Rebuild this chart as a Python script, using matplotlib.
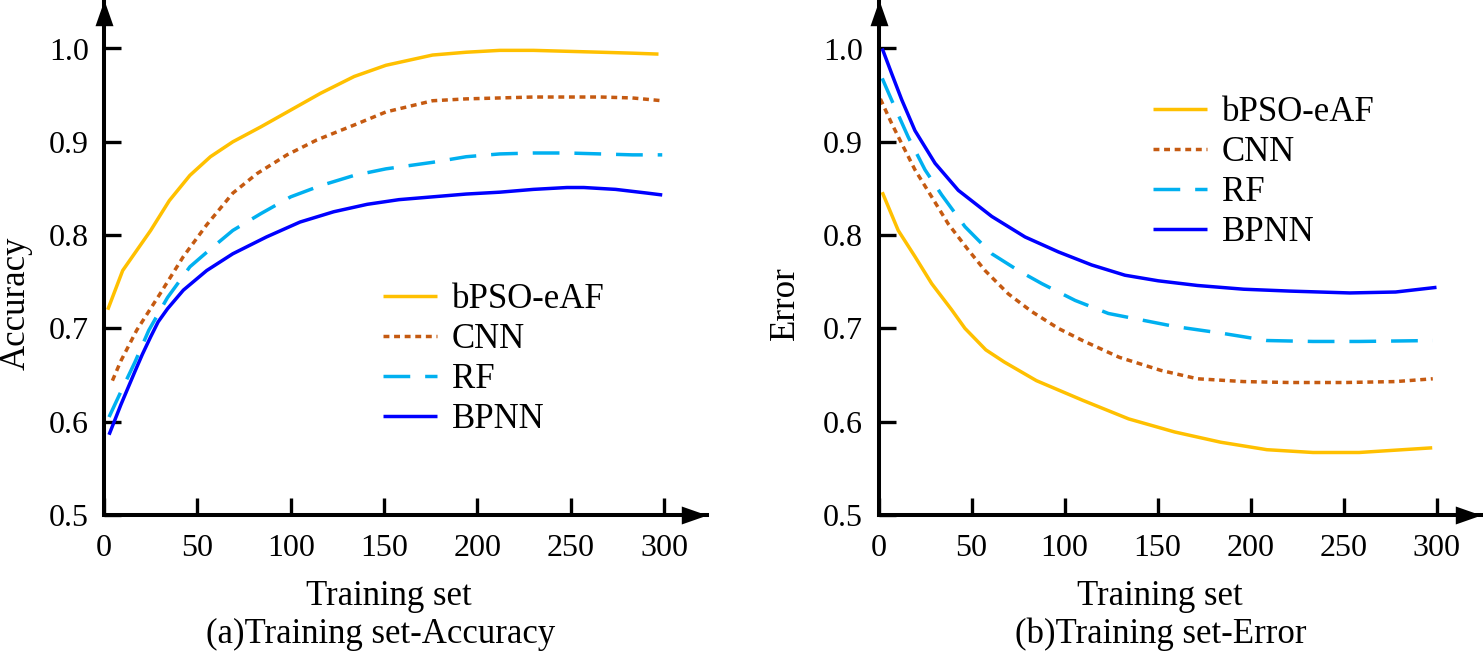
import matplotlib
matplotlib.use("Agg")
import matplotlib.pyplot as plt

plt.rcParams['font.family'] = ['Liberation Serif', 'DejaVu Serif']

# ---- (a) Training set - Accuracy
acc_bpso_x = [2, 10, 25, 35, 46, 57, 69, 84, 100, 116, 134, 151, 176, 194, 212, 230, 248, 266, 283, 297]
acc_bpso_y = [0.720, 0.762, 0.805, 0.837, 0.864, 0.884, 0.900, 0.916, 0.934, 0.952, 0.970, 0.982,
              0.993, 0.996, 0.998, 0.998, 0.997, 0.996, 0.995, 0.994]
acc_cnn_x = [4.5, 9, 17.5, 30, 42.5, 55, 69, 82, 98, 114, 134, 151, 176, 194, 230, 266, 283, 299]
acc_cnn_y = [0.644, 0.665, 0.698, 0.737, 0.777, 0.811, 0.845, 0.866, 0.886, 0.902, 0.918, 0.932,
             0.944, 0.946, 0.948, 0.948, 0.947, 0.944]
acc_rf_x = [2.7, 9, 16.6, 24, 34, 46, 57, 69, 84, 100, 116, 134, 151, 176, 194, 212, 230, 248, 266, 283, 299]
acc_rf_y = [0.605, 0.632, 0.664, 0.698, 0.733, 0.766, 0.785, 0.805, 0.823, 0.841, 0.853, 0.864,
            0.871, 0.878, 0.884, 0.887, 0.888, 0.888, 0.887, 0.886, 0.886]
acc_bpnn_x = [2.7, 9, 16.6, 20.5, 25, 29, 34, 42.5, 55, 69, 87, 105, 123, 141, 158, 176, 194, 212,
              230, 248, 257, 274, 291, 299]
acc_bpnn_y = [0.586, 0.618, 0.654, 0.672, 0.691, 0.707, 0.721, 0.741, 0.762, 0.780, 0.798, 0.814,
              0.825, 0.833, 0.838, 0.841, 0.844, 0.846, 0.849, 0.851, 0.851, 0.849, 0.845, 0.843]

# ---- (b) Training set - Error
err_bpso_x = [2, 10.6, 19.6, 28.6, 39.3, 46.5, 57.7, 67.6, 84.9, 109.7, 134.5, 159.2, 184, 208.8,
              233.6, 258.4, 297.7]
err_bpso_y = [0.846, 0.805, 0.777, 0.748, 0.720, 0.700, 0.677, 0.664, 0.644, 0.623, 0.603, 0.589,
              0.578, 0.570, 0.567, 0.567, 0.572]
err_cnn_x = [1, 7, 12.5, 19.6, 28.6, 37.5, 48.3, 57.3, 69.8, 82.4, 96.7, 109.7, 129.5, 151.8,
             171.5, 196.3, 221, 251, 278, 298]
err_cnn_y = [0.946, 0.920, 0.898, 0.870, 0.841, 0.812, 0.784, 0.762, 0.737, 0.718, 0.700, 0.687,
             0.669, 0.655, 0.646, 0.643, 0.642, 0.642, 0.643, 0.646]
err_rf_x = [2, 7, 16, 25, 34, 46.5, 60.9, 75.2, 87.8, 105.7, 123.6, 141.5, 159.4, 184, 208.8,
            233.6, 258.4, 298]
err_rf_y = [0.968, 0.945, 0.905, 0.870, 0.843, 0.809, 0.780, 0.762, 0.748, 0.730, 0.716, 0.709,
            0.702, 0.695, 0.687, 0.686, 0.686, 0.687]
err_bpnn_x = [2, 7.1, 12.5, 19.6, 30.4, 42.9, 60.9, 78.8, 96.7, 114.6, 132.5, 150.4, 171.5, 196.3,
              221, 253.4, 278, 300]
err_bpnn_y = [1.0, 0.973, 0.945, 0.912, 0.877, 0.848, 0.820, 0.798, 0.782, 0.768, 0.757, 0.751,
              0.746, 0.742, 0.740, 0.738, 0.739, 0.744]

labels = ["bPSO-eAF", "CNN", "RF", "BPNN"]
colors = ["#FFC000", "#C55A11", "#00B0F0", "#0000FF"]
styles = ["-", (0, (1.7, 1.35)), (0, (7.7, 4.3)), "-"]
xticks = [0, 50, 100, 150, 200, 250, 300]
yticks = [0.5, 0.6, 0.7, 0.8, 0.9, 1.0]

W, H = 1483, 653
fig = plt.figure(figsize=(W / 100, H / 100), dpi=100)

# axes placed in pixels: y axis at left edge, arrow tip at right edge
ax1 = fig.add_axes([104 / W, 138 / H, (707 - 104) / W, 515 / H])
ax2 = fig.add_axes([878.5 / W, 138 / H, (1481 - 878.5) / W, 515 / H])

arrow_r = [(-1, -0.35), (0, 0), (-1, 0.35), (-1, -0.35)]
arrow_u = [(-0.35, -1), (0, 0), (0.35, -1), (-0.35, -1)]

panels = [
    (ax1, [(acc_bpso_x, acc_bpso_y), (acc_cnn_x, acc_cnn_y), (acc_rf_x, acc_rf_y), (acc_bpnn_x, acc_bpnn_y)],
     (707 - 104) / 1.867, "Accuracy", 16, (383, 283.5), 389, "(a)Training set-Accuracy", 381),
    (ax2, [(err_bpso_x, err_bpso_y), (err_cnn_x, err_cnn_y), (err_rf_x, err_rf_y), (err_bpnn_x, err_bpnn_y)],
     (1481 - 878.5) / 1.86, "Error", 785, (1152.7, 96), 1160, "(b)Training set-Error", 1161),
]

for ax, series, xmax, ylab, ylab_x, leg_pos, xl_x, cap, cap_x in panels:
    handles = []
    for (xs, ys), lab, c, ls in zip(series, labels, colors, styles):
        h, = ax.plot(xs, ys, color=c, linestyle=ls, linewidth=2.5, label=lab,
                     solid_capstyle='butt', dash_capstyle='butt')
        handles.append(h)
    ylim_top = 0.5 + 515 / 933
    ax.set_xlim(0, xmax)
    ax.set_ylim(0.5, ylim_top)
    for s in ["top", "right"]:
        ax.spines[s].set_visible(False)
    for s in ["left", "bottom"]:
        ax.spines[s].set_linewidth(2.9)
    ax.set_xticks(xticks)
    ax.set_yticks(yticks)
    ax.set_yticklabels(["%.1f" % v for v in yticks])
    ax.tick_params(axis='both', direction='in', length=12.5, width=2.4, labelsize=23)
    ax.tick_params(axis='x', pad=14)
    ax.tick_params(axis='y', pad=11)
    # arrow heads at the axis ends
    ax.plot([xmax], [0.5], marker=arrow_r, markersize=37, color='k', markeredgewidth=0, clip_on=False)
    ax.plot([0], [ylim_top], marker=arrow_u, markersize=37, color='k', markeredgewidth=0, clip_on=False)

    ax.legend(handles=handles, loc='upper left', bbox_to_anchor=(leg_pos[0] / W, 1 - leg_pos[1] / H),
              bbox_transform=fig.transFigure, frameon=False, fontsize=25, borderpad=0,
              borderaxespad=0, handlelength=1.56, handletextpad=0.43, labelspacing=0.2)

    fig.text(ylab_x / W, 1 - 303 / H, ylab, rotation=90, ha='center', va='center', fontsize=25)
    fig.text(xl_x / W, 1 - 605 / H, "Training set", ha='center', va='baseline', fontsize=25)
    fig.text(cap_x / W, 1 - 643 / H, cap, ha='center', va='baseline', fontsize=25)

fig.savefig("out.png", dpi=100)
